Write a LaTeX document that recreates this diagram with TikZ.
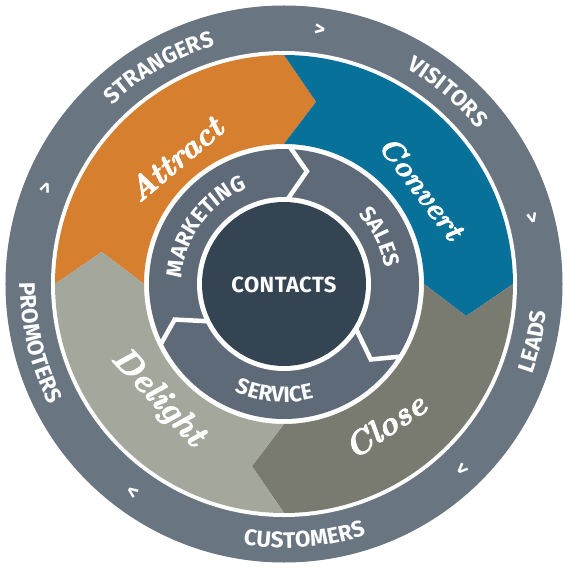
\documentclass[tikz,border=0pt]{standalone}
\usepackage{fontspec}
\usetikzlibrary{decorations.text}
\newfontfamily\ringfont[LetterSpace=2]{Fira Sans}
\newfontfamily\stagefont[FakeBold=2.6]{Latin Modern Roman}
\definecolor{ringgrey}{HTML}{6A7582}
\definecolor{hubgrey}{HTML}{5E6A77}
\definecolor{contactsblue}{HTML}{344453}
\definecolor{attractorange}{HTML}{D6802F}
\definecolor{convertblue}{HTML}{08719A}
\definecolor{closeolive}{HTML}{7A7B70}
\definecolor{delightsage}{HTML}{A4A89C}
\tikzset{
    ring text/.style 2 args={
        decorate,
        decoration={
            text along path, text align=center, text color=white,
            text={|\ringfont\bfseries\fontsize{#1}{#1}\selectfont|#2}
        }
    },
    stage/.style={text=white, font=\stagefont\bfseries\itshape\fontsize{#1}{#1}\selectfont, inner sep=0pt},
    flow mark/.style={text=white, font=\ringfont\bfseries\fontsize{21}{21}\selectfont, inner sep=0pt},
    hub divider/.style={draw=white, line width=4.5pt},
}

\begin{document}
\begin{tikzpicture}[x=1pt, y=1pt]
    \useasboundingbox (-284,-286) rectangle (286,284);
    \fill[ringgrey] (0,0) circle[radius=278.5];
    \fill[white] (0,0) circle[radius=233];
    % the four stages
    \fill[attractorange] (180:229) arc[start angle=180, end angle=90, radius=229] -- (80:185) -- (90:140) arc[start angle=90, end angle=180, radius=140] -- (170:185) -- cycle;
    \fill[convertblue] (90:229) arc[start angle=90, end angle=0, radius=229] -- (-10:185) -- (0:140) arc[start angle=0, end angle=90, radius=140] -- (80:185) -- cycle;
    \fill[closeolive] (0:229) arc[start angle=0, end angle=-90, radius=229] -- (-100:185) -- (-90:140) arc[start angle=-90, end angle=0, radius=140] -- (-10:185) -- cycle;
    \fill[delightsage] (270:229) arc[start angle=270, end angle=180, radius=229] -- (170:185) -- (180:140) arc[start angle=180, end angle=270, radius=140] -- (260:185) -- cycle;
    % hub
    \fill[hubgrey] (0,0) circle[radius=135];
    \draw[hub divider] (87.5:137) -- (78.5:115) -- (87.5:85);
    \draw[hub divider] (-32:137) -- (-41:115) -- (-32:85);
    \draw[hub divider] (206:137) -- (198:115) -- (206:85);
    \fill[white] (0,0) circle[radius=87];
    \fill[contactsblue] (0,0) circle[radius=82];
    \node[text=white, font=\ringfont\bfseries\fontsize{22}{22}\selectfont] (contacts) at (0,-1) {CONTACTS};
    % outer ring
    \path[ring text={22.5}{STRANGERS}] (150:248) arc[start angle=150, end angle=90, radius=248];
    \path[ring text={22.5}{VISITORS}] (79.5:248) arc[start angle=79.5, end angle=19.5, radius=248];
    \path[ring text={22.5}{LEADS}] (-43:264) arc[start angle=-43, end angle=17, radius=264];
    \path[ring text={22.5}{CUSTOMERS}] (244.6:264) arc[start angle=244.6, end angle=304.6, radius=264];
    \path[ring text={22.5}{PROMOTERS}] (163.4:264) arc[start angle=163.4, end angle=223.4, radius=264];
    \node[flow mark, rotate=-8] (mark1) at (82:256) {>};
    \node[flow mark, rotate=-75] (mark2) at (15:256) {>};
    \node[flow mark, rotate=-136] (mark3) at (-46:256) {>};
    \node[flow mark, rotate=144] (mark4) at (234:256) {>};
    \node[flow mark, rotate=68] (mark5) at (158:256) {>};
    % hub labels
    \path[ring text={22}{MARKETING}] (194:102) arc[start angle=194, end angle=94, radius=102];
    \path[ring text={22}{SALES}] (76:102) arc[start angle=76, end angle=-24, radius=102];
    \path[ring text={22}{SERVICE}] (215:118) arc[start angle=215, end angle=315, radius=118];
    % stage names
    \node[stage=32, rotate=40] (attract) at (131:166) {Attract};
    \node[stage=30, rotate=-53] (convert) at (35:168) {Convert};
    \node[stage=33, rotate=34] (close) at (-54.5:174) {Close};
    \node[stage=34, rotate=-47] (delight) at (222:170) {Delight};
\end{tikzpicture}
\end{document}
